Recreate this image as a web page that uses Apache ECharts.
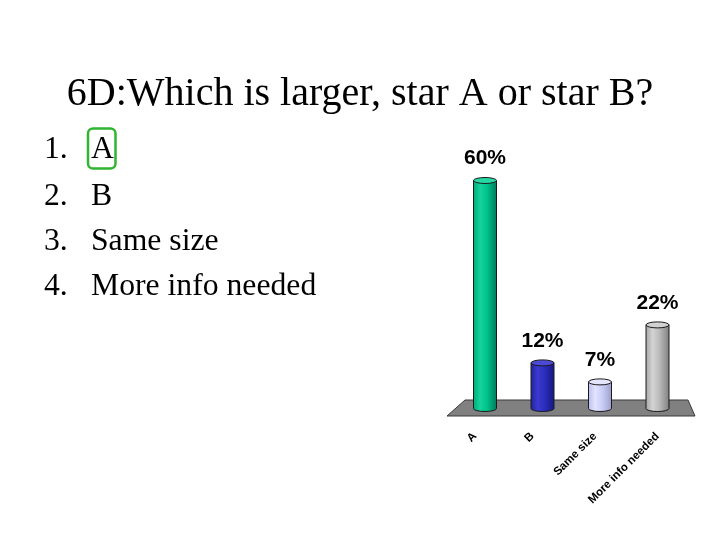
<!DOCTYPE html>
<html>
<head>
<meta charset="utf-8">
<script src="https://cdn.jsdelivr.net/npm/echarts@6/dist/echarts.min.js"></script>
<style>html,body{margin:0;padding:0;background:#fff;}#c{width:720px;height:540px;}</style>
</head>
<body>
<div id="c"></div>
<script>
// ---- data ----
const titleText = '6D:Which is larger, star A or star B?';
const listNumbers = ['1.', '2.', '3.', '4.'];
const listItems = ['A', 'B', 'Same size', 'More info needed'];
const categories = ['A', 'B', 'Same size', 'More info needed'];
const percentValues = [60, 12, 7, 22];

// ---- styles ----
const cylStyles = [
  { stops: ['#00a878', '#14d49c', '#00c08a', '#007a56'], top: '#25d8a4' },
  { stops: ['#22229c', '#3a3ad0', '#2c2cbc', '#161680'], top: '#4a4ad6' },
  { stops: ['#b8bcec', '#e2e4ff', '#c8ccf6', '#9a9ec8'], top: '#e4e6ff' },
  { stops: ['#a4a4a4', '#d4d4d4', '#b8b8b8', '#7e7e7e'], top: '#d2d2d2' }
];
// leftward shift of each rotated category label (px)
const labelShift = [10, 10, 5, 0];

const chart = echarts.init(document.getElementById('c'), null, { renderer: 'canvas' });

const serif = '"Liberation Serif", "Times New Roman", serif';
const sans = '"Liberation Sans", Arial, sans-serif';

const graphics = [];
graphics.push({
  type: 'text', x: 360, y: 94, z: 5,
  style: { text: titleText, font: '40px ' + serif, fill: '#000', textAlign: 'center', textVerticalAlign: 'middle' }
});
const rowY = [149.7, 196.2, 241.2, 286.2];
listItems.forEach((t, i) => {
  graphics.push({ type: 'text', x: 44, y: rowY[i], z: 5,
    style: { text: listNumbers[i], font: '31.7px ' + serif, fill: '#000', textVerticalAlign: 'middle' } });
  graphics.push({ type: 'text', x: 91, y: rowY[i], z: 5,
    style: { text: t, font: '31.7px ' + serif, fill: '#000', textVerticalAlign: 'middle' } });
});
graphics.push({
  type: 'rect', z: 6,
  shape: { x: 88, y: 128.5, width: 27.5, height: 40, r: 5 },
  style: { fill: 'none', stroke: '#2fb52f', lineWidth: 2.5 }
});
graphics.push({
  type: 'polygon', z: 0,
  shape: { points: [[465, 400], [688, 400], [695, 416], [447, 416]] },
  style: { fill: '#808080', stroke: '#3a3a3a', lineWidth: 1 }
});

function renderCyl(params, api) {
  const i = params.dataIndex;
  const idx = api.value(0);
  const top = api.coord([idx, api.value(1)]);
  const base = api.coord([idx, 0]);
  const cx = top[0];
  const rx = 11.5, ry = 3;
  const st = cylStyles[i % cylStyles.length];
  const l = cx - rx, r = cx + rx;
  const body = 'M' + l + ',' + top[1] + ' L' + l + ',' + base[1] +
    ' A' + rx + ',' + ry + ' 0 0,0 ' + r + ',' + base[1] +
    ' L' + r + ',' + top[1] + ' Z';
  const ell = 'M' + l + ',' + top[1] + ' A' + rx + ',' + ry + ' 0 1,0 ' + r + ',' + top[1] +
    ' A' + rx + ',' + ry + ' 0 1,0 ' + l + ',' + top[1] + ' Z';
  return {
    type: 'group',
    children: [
      { type: 'path', shape: { pathData: body },
        style: { fill: { type: 'linear', x: 0, y: 0, x2: 1, y2: 0,
          colorStops: [{ offset: 0, color: st.stops[0] }, { offset: 0.3, color: st.stops[1] },
                       { offset: 0.6, color: st.stops[2] }, { offset: 1, color: st.stops[3] }] },
          stroke: '#1a1a1a', lineWidth: 1 } },
      { type: 'path', shape: { pathData: ell },
        style: { fill: st.top, stroke: '#1a1a1a', lineWidth: 1 } },
      { type: 'text', x: cx, y: top[1] - 22,
        style: { text: api.value(1) + '%', font: 'bold 21px ' + sans, fill: '#000',
          textAlign: 'center', textVerticalAlign: 'middle' } },
      { type: 'text', x: cx - labelShift[i], y: base[1] + 26, rotation: Math.PI / 4,
        style: { text: categories[i], font: 'bold 11.5px ' + sans, fill: '#000',
          textAlign: 'right', textVerticalAlign: 'middle' } }
    ]
  };
}

chart.setOption({
  backgroundColor: '#fff',
  animation: false,
  graphic: graphics,
  grid: { left: 456.25, right: 33.75, top: 180.5, bottom: 131.5 },
  xAxis: {
    type: 'category', data: categories,
    axisLine: { show: false }, axisTick: { show: false }, splitLine: { show: false },
    axisLabel: { show: false }
  },
  yAxis: { type: 'value', min: 0, max: 60, show: false, splitLine: { show: false } },
  series: [{
    type: 'custom', z: 10,
    renderItem: renderCyl,
    encode: { x: 0, y: 1 },
    data: percentValues.map((v, i) => [i, v])
  }]
});
</script>
</body>
</html>
